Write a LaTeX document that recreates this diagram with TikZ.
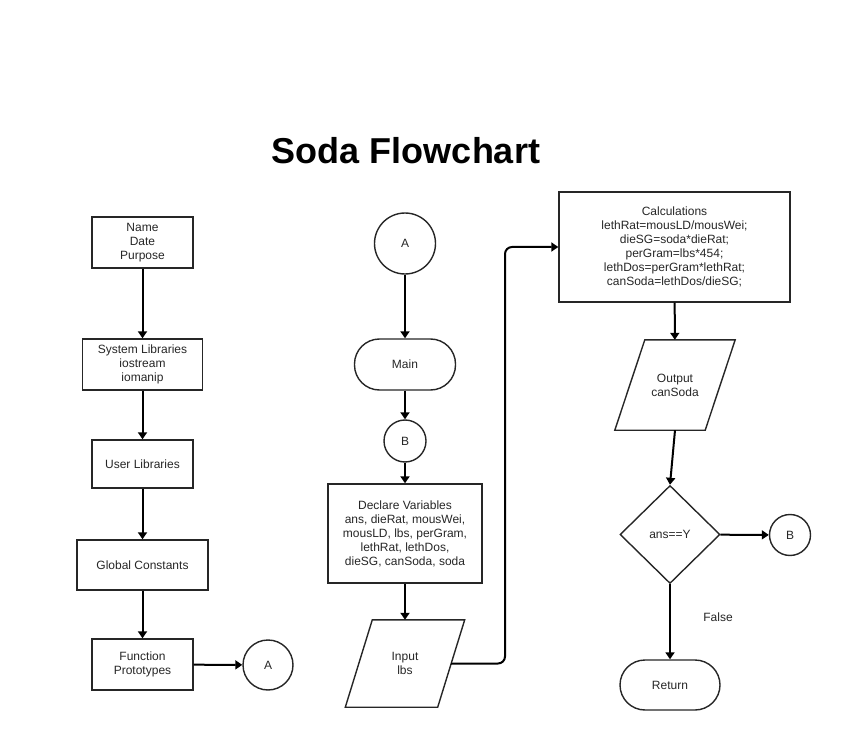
\documentclass[tikz,border=0pt]{standalone}
\usepackage{fontspec}
\setmainfont{Liberation Sans}
\usetikzlibrary{shapes.geometric,arrows.meta}
\begin{document}
\begin{tikzpicture}[x=1pt,y=-1pt,
  every node/.style={font=\fontsize{12}{14}\selectfont, text=black!85, align=center, inner sep=0pt},
  box/.style={draw=black!85, line width=1.4pt, rectangle},
  term/.style={draw=black!85, line width=1.4pt, rectangle, rounded corners=25pt, minimum width=101pt, minimum height=51pt},
  conn/.style={draw=black!85, line width=1.4pt, circle},
  para/.style={draw=none, rectangle},
  dec/.style={draw=black!85, line width=1.4pt, diamond, minimum width=100pt, minimum height=98pt},
  arr/.style={line width=2pt, -{Triangle[width=9pt,length=7pt]}},
  lbl/.style={font=\fontsize{12}{14}\selectfont}
]
\useasboundingbox (0,0) rectangle (868,730);
\node[font=\fontsize{36}{40}\selectfont\bfseries, text=black] (title) at (406,151) {Soda Flowchart};
% left column
\node[box, minimum width=101pt, minimum height=51pt] (ndp) at (142.5,242.5) {Name\\Date\\Purpose};
\node[box, minimum width=120pt, minimum height=51pt] (sys) at (142.5,364.5) {System Libraries\\iostream\\iomanip};
\node[box, minimum width=101pt, minimum height=48pt] (usr) at (142.5,464) {User Libraries};
\node[box, minimum width=131pt, minimum height=50pt] (glob) at (142.5,565) {Global Constants};
\node[box, minimum width=101pt, minimum height=51pt] (fun) at (142.5,664.5) {Function\\Prototypes};
\node[conn, minimum size=50pt] (a2) at (268,665) {A};
% middle column
\node[conn, minimum size=61pt] (a1) at (405,243.5) {A};
\node[term] (main) at (405,364.5) {Main};
\node[conn, minimum size=42pt] (b1) at (405,441) {B};
\node[box, minimum width=154pt, minimum height=99pt] (decl) at (405,533.5) {Declare Variables\\ans, dieRat, mousWei,\\mousLD, lbs, perGram,\\lethRat, lethDos,\\dieSG, canSoda, soda};
\node[para, minimum width=92pt, minimum height=87pt] (inp) at (405,663.5) {Input\\lbs};
\draw[draw=black!85, line width=1.4pt] ([xshift=13.5pt]inp.north west) -- ([xshift=13.5pt]inp.north east) -- ([xshift=-13.5pt]inp.south east) -- ([xshift=-13.5pt]inp.south west) -- cycle;
% right column
\node[box, minimum width=231pt, minimum height=110pt] (calc) at (674.5,247) {Calculations\\lethRat=mousLD/mousWei;\\dieSG=soda*dieRat;\\perGram=lbs*454;\\lethDos=perGram*lethRat;\\canSoda=lethDos/dieSG;};
\node[para, minimum width=90pt, minimum height=90pt] (out) at (675,385) {Output\\canSoda};
\draw[draw=black!85, line width=1.4pt] ([xshift=15pt]out.north west) -- ([xshift=15pt]out.north east) -- ([xshift=-15pt]out.south east) -- ([xshift=-15pt]out.south west) -- cycle;
\node[dec] (dia) at (670,534.5) {ans==Y};
\node[conn, minimum size=41pt] (b2) at (790,535) {B};
\node[term, minimum width=100pt, minimum height=50pt] (ret) at (670,685) {Return};
\node[lbl] (false) at (718,617) {False};
% connectors
\draw[arr] (ndp) -- (sys);
\draw[arr] (sys) -- (usr);
\draw[arr] (usr) -- (glob);
\draw[arr] (glob) -- (fun);
\draw[arr] (fun) -- (a2);
\draw[arr] (a1) -- (main);
\draw[arr] (main) -- (b1);
\draw[arr] (b1) -- (decl);
\draw[arr] (decl) -- (inp);
\draw[arr, rounded corners=7pt] (inp.east) -- (505,663.5) |- (calc.west);
\draw[arr] (calc) -- (out);
\draw[arr] (out.south) -- (dia.north);
\draw[arr] (dia) -- (b2);
\draw[arr] (dia) -- (ret);
\end{tikzpicture}
\end{document}
